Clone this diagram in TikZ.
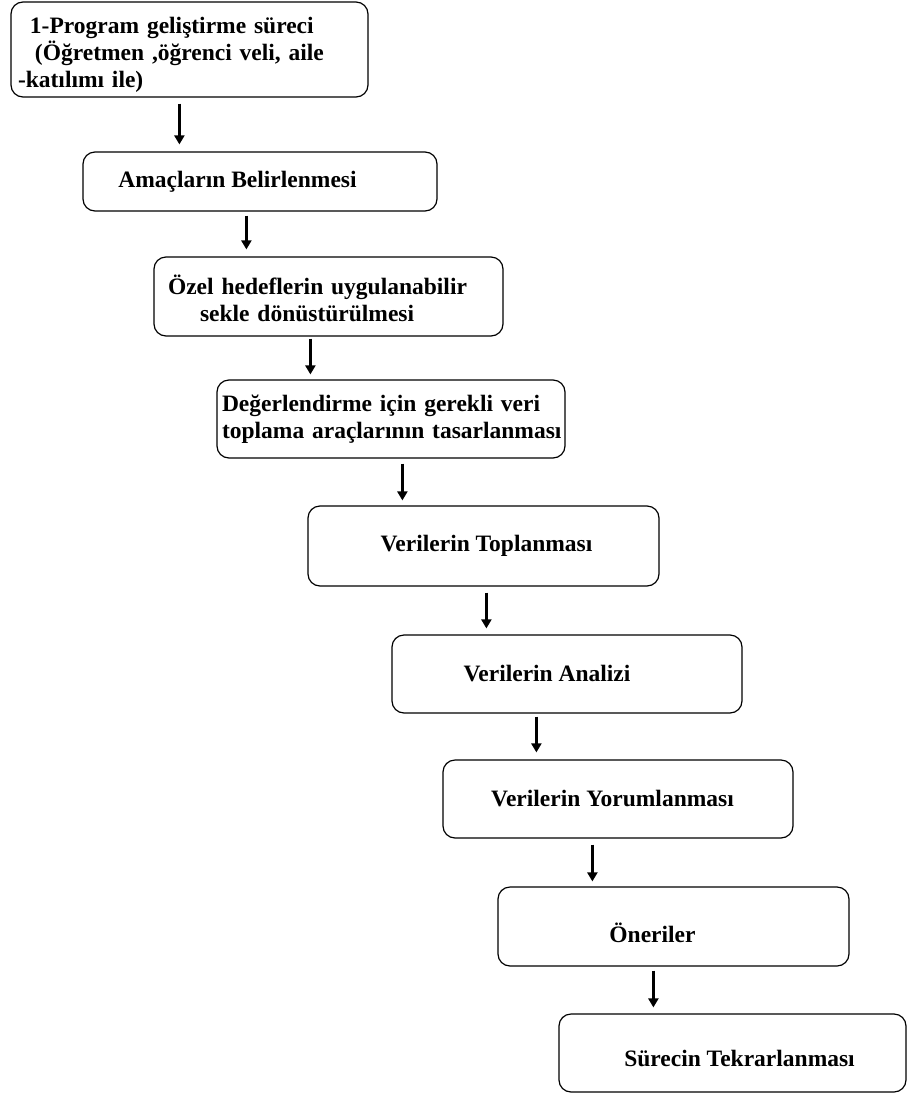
\documentclass[tikz,border=0pt]{standalone}
\usepackage{fontspec}
\setmainfont{Liberation Serif}
\usetikzlibrary{arrows.meta}
\begin{document}
\begin{tikzpicture}[x=1pt,y=-1pt,
  box/.style={draw, line width=1.2pt, rounded corners=12pt, inner sep=0pt,
    font=\bfseries\fontsize{23.5}{27}\selectfont},
  arr/.style={-{Triangle[width=10pt,length=9pt]}, line width=2.6pt}]
\useasboundingbox (0,0) rectangle (907,1093);

\node[box, minimum height=95pt, text width=357pt, align=left] (b1) at (189.5,49.5)
  {\rule{0pt}{26pt}\hspace*{19pt}1-Program geliştirme süreci\\\hspace*{24pt}(Öğretmen ,öğrenci veli, aile\\\hspace*{7pt}-katılımı ile)};
\node[box, minimum width=354pt, minimum height=59pt] (b2) at (260,181.5)
  {Amaçların Belirlenmesi\hspace*{45pt}};
\node[box, minimum height=79pt, text width=349pt, align=left] (b3) at (328.5,296.5)
  {\rule{0pt}{23pt}\hspace*{14pt}Özel hedeflerin uygulanabilir\\\hspace*{46pt}sekle dönüstürülmesi};
\node[box, minimum height=78pt, text width=348pt, align=left] (b4) at (391,419)
  {\hspace*{5pt}Değerlendirme için gerekli veri\\\hspace*{5pt}toplama araçlarının tasarlanması};
\node[box, minimum width=351pt, minimum height=80pt] (b5) at (483.5,546)
  {\hspace*{6pt}Verilerin Toplanması};
\node[box, minimum width=350pt, minimum height=78pt] (b6) at (567,674)
  {Verilerin Analizi\hspace*{40pt}};
\node[box, minimum width=350pt, minimum height=78pt] (b7) at (618,799)
  {Verilerin Yorumlanması\hspace*{11pt}};
\node[box, minimum width=351pt, minimum height=79pt] (b8) at (673.5,926.5)
  {\raisebox{-6.5pt}[\height][\depth]{Öneriler}\hspace*{42pt}};
\node[box, minimum width=347pt, minimum height=78pt] (b9) at (732.5,1053)
  {\hspace*{14pt}\raisebox{-5pt}[\height][\depth]{Sürecin Tekrarlanması}};

\draw[arr] ([xshift=169pt,yshift=-6pt]b1.south west) -- ([xshift=97pt,yshift=7pt]b2.north west);
\draw[arr] ([xshift=164pt,yshift=-4pt]b2.south west) -- ([xshift=93pt,yshift=7pt]b3.north west);
\draw[arr] ([xshift=157pt,yshift=-2pt]b3.south west) -- ([xshift=94pt,yshift=5pt]b4.north west);
\draw[arr] ([xshift=186pt,yshift=-5pt]b4.south west) -- ([xshift=95pt,yshift=5pt]b5.north west);
\draw[arr] ([xshift=179pt,yshift=-6pt]b5.south west) -- ([xshift=95pt,yshift=6pt]b6.north west);
\draw[arr] ([xshift=145pt,yshift=-3pt]b6.south west) -- ([xshift=94pt,yshift=7pt]b7.north west);
\draw[arr] ([xshift=150pt,yshift=-6pt]b7.south west) -- ([xshift=95pt,yshift=5pt]b8.north west);
\draw[arr] ([xshift=156pt,yshift=-4pt]b8.south west) -- ([xshift=95pt,yshift=6pt]b9.north west);
\end{tikzpicture}
\end{document}
